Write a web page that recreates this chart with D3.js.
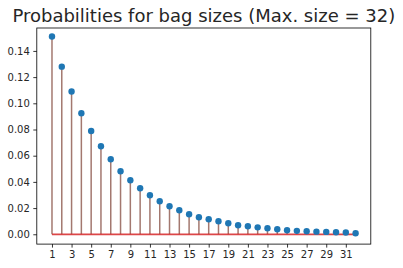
<!DOCTYPE html>
<html>
<head>
<meta charset="utf-8">
<script src="https://cdn.jsdelivr.net/npm/d3@7"></script>
<style>
  body { margin: 0; background: #fff; }
  text { font-family: "DejaVu Sans", sans-serif; fill: #262626; }
</style>
</head>
<body>
<svg id="chart" width="403" height="268"></svg>
<script>
// bag sizes and their probabilities
const sizes = d3.range(1, 33);
const probs = [0.151, 0.128, 0.109, 0.0924, 0.0789, 0.0672, 0.0573, 0.0481,
  0.0413, 0.0351, 0.0298, 0.0252, 0.0214, 0.0183, 0.0153, 0.013,
  0.0115, 0.0099, 0.0084, 0.0069, 0.0061, 0.0053, 0.0046, 0.0038,
  0.0031, 0.0026, 0.0023, 0.002, 0.0018, 0.0015, 0.0013, 0.0008];
const xTicks = d3.range(1, 33, 2);
const yTicks = [0, 0.02, 0.04, 0.06, 0.08, 0.10, 0.12, 0.14];
const title = "Probabilities for bag sizes (Max. size = 32)";

const svg = d3.select("#chart");
const plotLeft = 36.8, plotRight = 370.8, plotTop = 28, plotBottom = 244.1;

// matplotlib style 5% margins
const xScale = d3.scaleLinear().domain([1 - 1.55, 32 + 1.55]).range([plotLeft, plotRight]);
const yScale = d3.scaleLinear().domain([-0.0075, 0.1575]).range([plotBottom, plotTop]);

const data = sizes.map((s, i) => ({ s, p: probs[i] }));

// stems
svg.append("g")
  .selectAll("line")
  .data(data)
  .join("line")
  .attr("x1", d => xScale(d.s))
  .attr("x2", d => xScale(d.s))
  .attr("y1", yScale(0))
  .attr("y2", d => yScale(d.p))
  .attr("stroke", "#8c564b")
  .attr("stroke-opacity", 0.8)
  .attr("stroke-width", 1.5);

// baseline
svg.append("line")
  .attr("x1", xScale(1))
  .attr("x2", xScale(32))
  .attr("y1", yScale(0))
  .attr("y2", yScale(0))
  .attr("stroke", "#d62728")
  .attr("stroke-opacity", 0.85)
  .attr("stroke-width", 1.8);

// markers
svg.append("g")
  .selectAll("circle")
  .data(data)
  .join("circle")
  .attr("cx", d => xScale(d.s))
  .attr("cy", d => yScale(d.p))
  .attr("r", 3.2)
  .attr("fill", "#1f77b4");

// axes
const xAxis = d3.axisBottom(xScale).tickValues(xTicks).tickSize(3.5).tickPadding(3.5).tickFormat(d3.format("d"));
const yAxis = d3.axisLeft(yScale).tickValues(yTicks).tickSize(3.5).tickPadding(3.5).tickFormat(d3.format(".2f"));

const gx = svg.append("g").attr("transform", `translate(0,${plotBottom})`).call(xAxis);
const gy = svg.append("g").attr("transform", `translate(${plotLeft},0)`).call(yAxis);
[gx, gy].forEach(g => {
  g.select(".domain").remove();
  g.selectAll("line").attr("stroke", "#000").attr("stroke-width", 0.8);
  g.selectAll("text").attr("font-size", 10).attr("fill", "#262626")
    .style("font-family", "DejaVu Sans, sans-serif");
});

// frame
svg.append("rect")
  .attr("x", plotLeft).attr("y", plotTop)
  .attr("width", plotRight - plotLeft).attr("height", plotBottom - plotTop)
  .attr("fill", "none").attr("stroke", "#000").attr("stroke-width", 0.8);

// title
svg.append("text")
  .attr("x", (plotLeft + plotRight) / 2)
  .attr("y", 22)
  .attr("text-anchor", "middle")
  .attr("font-size", 18)
  .text(title);
</script>
</body>
</html>
